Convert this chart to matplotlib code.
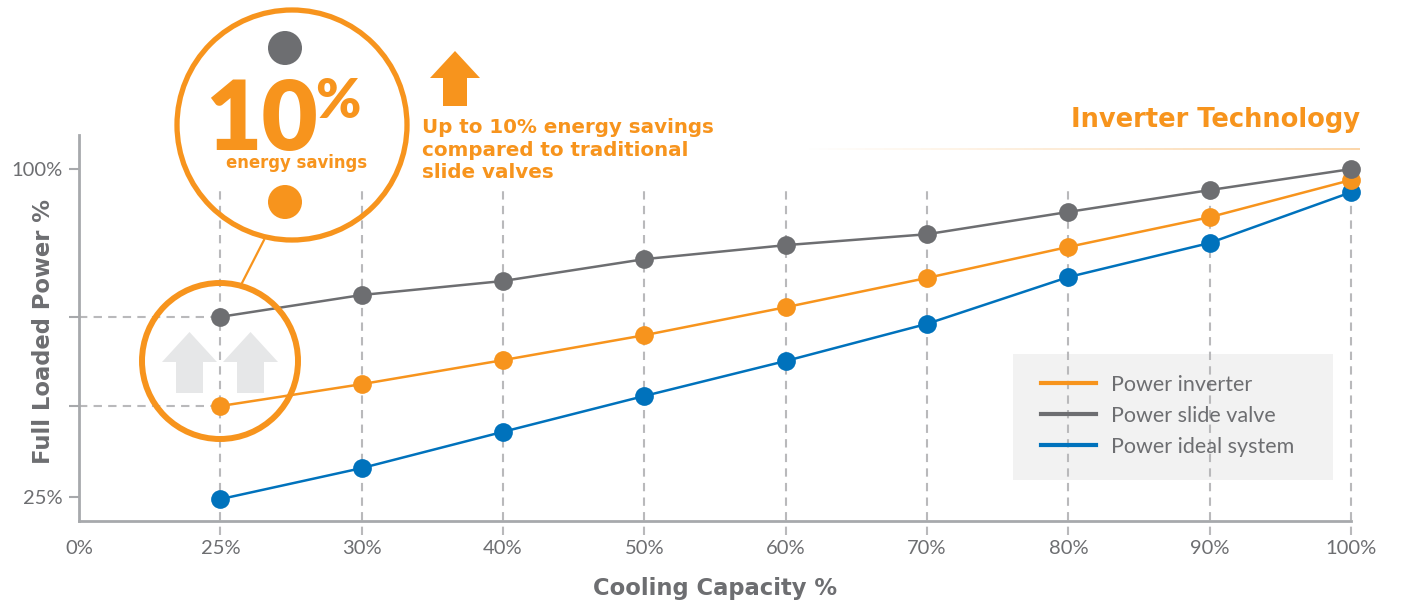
import numpy as np
import matplotlib
matplotlib.use('Agg')
import matplotlib.pyplot as plt
import matplotlib.transforms as mtransforms
from matplotlib.patches import Circle, Polygon, Rectangle
from matplotlib.lines import Line2D
from matplotlib.collections import LineCollection

plt.rcParams['font.family'] = ['Lato', 'DejaVu Sans']
BOLD = ['DejaVu Sans']

# Data
categories = ['0%', '25%', '30%', '40%', '50%', '60%', '70%', '80%', '90%', '100%']
power_slide_valve = [66.2, 71.2, 74.4, 79.4, 82.6, 85.1, 90.2, 95.2, 100.0]
power_inverter = [45.8, 50.8, 56.3, 62.0, 68.4, 75.1, 82.2, 89.0, 97.5]
power_ideal = [24.5, 31.6, 39.9, 48.1, 56.1, 64.6, 75.3, 83.1, 94.7]
y_tick_labels = {25: '25%', 100: '100%'}

ORANGE = '#f7941d'
GRAY = '#6d6e71'
BLUE = '#0072bc'
AXIS_GRAY = '#a7a9ac'
GRID_GRAY = '#b9b9bb'

W, H = 1402, 603
fig = plt.figure(figsize=(W / 100, H / 100), dpi=100)
px = mtransforms.Affine2D().scale(1 / W, -1 / H).translate(0, 1) + fig.transFigure

ax = fig.add_axes([79 / W, 82 / H, (1351 - 79) / W, (521 - 135) / H])
x = np.arange(len(categories))
xs = x[1:]

ax.set_xlim(0, len(categories) - 1)
ax.set_ylim(19.5, 107.8)

# dashed guides
ax.vlines(xs, 16.3, 96.3, colors=GRID_GRAY, linestyles=(0, (4, 3)), lw=1.5,
          clip_on=False, zorder=1)
ax.hlines([power_slide_valve[0], power_inverter[0]], 0, xs[0], colors=GRID_GRAY,
          linestyles=(0, (4, 3)), lw=1.5, zorder=1)

# light arrows inside the zoom circle
for x0 in (162, 223):
    pts = [(x0 + 14, 393), (x0 + 14, 362), (x0, 362), (x0 + 27.5, 332),
           (x0 + 55, 362), (x0 + 41, 362), (x0 + 41, 393)]
    ax.add_patch(Polygon(pts, closed=True, transform=px, facecolor='#e6e7e8',
                         edgecolor='none', zorder=0.5, clip_on=False))

# legend background
ax.add_patch(Rectangle((1013, 354), 320, 126, transform=px, facecolor='#f2f2f2',
                       edgecolor='none', zorder=0.4, clip_on=False))

series = [
    (power_ideal, BLUE, 'Power ideal system'),
    (power_inverter, ORANGE, 'Power inverter'),
    (power_slide_valve, GRAY, 'Power slide valve'),
]
for vals, col, lab in series:
    ax.plot(xs, vals, color=col, lw=1.8, marker='o', markersize=13.5,
            markeredgewidth=0, zorder=3, clip_on=False)

handles = [Line2D([], [], color=ORANGE, lw=3),
           Line2D([], [], color=GRAY, lw=3),
           Line2D([], [], color=BLUE, lw=3)]
labels = ['Power inverter', 'Power slide valve', 'Power ideal system']
leg = ax.legend(handles, labels, loc='upper left', bbox_to_anchor=(1041 / W, 1 - 375 / H),
                bbox_transform=fig.transFigure, frameon=False, fontsize=15.5,
                handlelength=2.56, handletextpad=0.7, labelspacing=0.5,
                borderpad=0, borderaxespad=0, labelcolor=GRAY)

for s in ['top', 'right']:
    ax.spines[s].set_visible(False)
for s in ['left', 'bottom']:
    ax.spines[s].set_color(AXIS_GRAY)
    ax.spines[s].set_linewidth(2)

ax.set_xticks(x)
ax.set_xticklabels(categories)
ax.tick_params(axis='x', length=0, pad=14, labelsize=14.5, labelcolor=GRAY)
yt = [25, power_inverter[0], power_slide_valve[0], 100]
ax.set_yticks(yt)
ax.set_yticklabels([y_tick_labels.get(v, '') for v in yt])
ax.tick_params(axis='y', length=7, width=1.5, color=AXIS_GRAY, pad=5,
               labelsize=14.5, labelcolor=GRAY)

# axis titles
fig.text(715 / W, 1 - 588 / H, 'Cooling Capacity %', ha='center', va='center',
         fontsize=16.3, fontweight='bold', family=BOLD, color=GRAY)
fig.text(44 / W, 1 - 331 / H, 'Full Loaded Power %', ha='center', va='center',
         rotation=90, fontsize=16.3, fontweight='bold', family=BOLD, color=GRAY)

# header
fig.text(1360 / W, 1 - 120 / H, 'Inverter Technology', ha='right', va='center',
         fontsize=18.5, fontweight='bold', family=BOLD, color=ORANGE)
n = 60
gx = np.linspace(800, 1360, n + 1)
segs = [[(gx[i], 149), (gx[i + 1], 149)] for i in range(n)]
alphas = np.linspace(0, 0.45, n)
lc = LineCollection(segs, colors=[(247 / 255, 148 / 255, 29 / 255, a) for a in alphas],
                    linewidths=1.2, transform=px)
fig.add_artist(lc)

fig.text(422 / W, 1 - 150 / H,
         'Up to 10% energy savings\ncompared to traditional\nslide valves',
         ha='left', va='center', fontsize=14.3, fontweight='bold', family=BOLD,
         color=ORANGE, linespacing=1.26)

# overlay for the callout
oax = fig.add_axes([0, 0, 1, 1], zorder=5)
oax.set_xlim(0, W)
oax.set_ylim(H, 0)
oax.axis('off')
oax.patch.set_alpha(0)

oax.add_patch(Polygon([(443, 106), (443, 78), (430, 78), (455, 51), (480, 78),
                       (467, 78), (467, 106)], closed=True, facecolor=ORANGE,
                      edgecolor='none'))
oax.add_patch(Circle((292, 125), 115, facecolor='none', edgecolor=ORANGE, lw=3.8))
oax.add_patch(Circle((220, 361), 78, facecolor='none', edgecolor=ORANGE, lw=4.3))
oax.plot([242, 264], [283, 240], color=ORANGE, lw=1.6)
oax.add_patch(Circle((285, 48), 17, facecolor=GRAY, edgecolor='none'))
oax.add_patch(Circle((285, 202), 17, facecolor=ORANGE, edgecolor='none'))
oax.text(262, 150, '10', ha='center', va='baseline', fontsize=70, fontweight='heavy',
         color=ORANGE)
oax.text(338, 118, '%', ha='center', va='baseline', fontsize=39, fontweight='heavy',
         color=ORANGE)
oax.text(297, 168, 'energy savings', ha='center', va='baseline', fontsize=11.9,
         fontweight='bold', family=BOLD, color=ORANGE)

fig.savefig('out.png', dpi=100)
